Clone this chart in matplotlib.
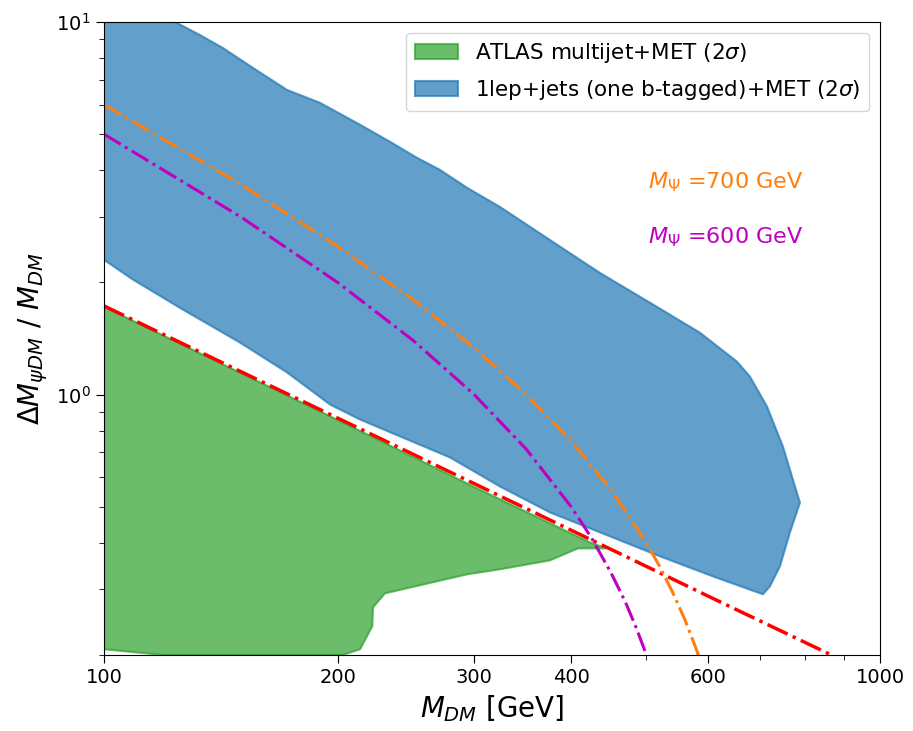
import matplotlib
matplotlib.use("Agg")
import matplotlib.pyplot as plt
from matplotlib.ticker import FixedLocator, NullFormatter

# ---- data (M_DM in GeV, ratio dimensionless) ----
# ATLAS multijet+MET (2 sigma) excluded region, polygon
atlas_x = [100, 200, 300, 423, 443.6, 408.2, 375.6, 323.8, 293.7, 230.2,
           222.2, 221.7, 213.8, 203.2, 119.1, 100]
atlas_y = [1.72, 0.855, 0.565, 0.401, 0.3865, 0.3865, 0.3589, 0.3396, 0.3292,
           0.2927, 0.2685, 0.2388, 0.2072, 0.2, 0.2, 0.2072]

# 1lep+jets (one b-tagged)+MET (2 sigma) region, polygon
lep_x = [100, 123.5, 132.9, 142.3, 155.6, 172.2, 189.8, 213.8, 233.7, 253.2,
         271.0, 293.7, 323.8, 375.6, 435.8, 505.3, 586.1, 654.2, 680.0, 715.2,
         749.9, 784.1, 788.8, 765.6, 743.2, 721.5, 706.6,
         609.3, 520.5, 435.8, 375.6, 323.8, 279.2, 240.7, 213.8, 195.6,
         172.2, 149.7, 126.4, 109.0, 100]
lep_y = [10, 10, 9.23, 8.52, 7.53, 6.57, 6.07, 5.30, 4.77, 4.32,
         4.01, 3.59, 3.19, 2.60, 2.12, 1.765, 1.466, 1.226, 1.117, 0.929,
         0.725, 0.533, 0.513, 0.4266, 0.3458, 0.3056, 0.291,
         0.325, 0.368, 0.4266, 0.4827, 0.5666, 0.678, 0.772, 0.857, 0.940,
         1.146, 1.379, 1.690, 2.034, 2.30]

# kinematic lines
mtop_x = [100, 200, 400, 600, 870]
mtop_y = [1.73, 0.865, 0.4325, 0.288, 0.199]

m700_x = [100, 150, 200, 250, 300, 350, 400, 450, 500, 520, 540, 560, 575, 584]
m700_y = [6.0, 3.67, 2.5, 1.8, 1.333, 1.0, 0.75, 0.556, 0.4, 0.346, 0.296,
          0.25, 0.217, 0.199]

m600_x = [100, 150, 200, 250, 300, 350, 400, 425, 450, 470, 485, 501]
m600_y = [5.0, 3.0, 2.0, 1.4, 1.0, 0.714, 0.5, 0.412, 0.333, 0.277, 0.237,
          0.198]

xtick_vals = [100, 200, 300, 400, 600, 1000]
xtick_labels = ["100", "200", "300", "400", "600", "1000"]
xminor_vals = [500, 700, 800, 900]

fig = plt.figure(figsize=(9.13, 7.31), dpi=100)
ax = fig.add_axes([0.1139, 0.104, 0.8499, 0.8659])

ax.fill(atlas_x, atlas_y, facecolor="tab:green", alpha=0.7,
        edgecolor="tab:green", linewidth=1.5,
        label=r"ATLAS multijet+MET (2$\sigma$)")
ax.fill(lep_x, lep_y, facecolor="tab:blue", alpha=0.7,
        edgecolor="tab:blue", linewidth=1.5,
        label=r"1lep+jets (one b-tagged)+MET (2$\sigma$)")

ax.plot(mtop_x, mtop_y, color="r", linestyle="-.", linewidth=2.5)
ax.plot(m700_x, m700_y, color="tab:orange", linestyle="-.", linewidth=2.2)
ax.plot(m600_x, m600_y, color="m", linestyle="-.", linewidth=2.2)

ax.text(502, 3.72, r"$M_\Psi$ =700 GeV", color="tab:orange", fontsize=16,
        va="center")
ax.text(502, 2.65, r"$M_\Psi$ =600 GeV", color="m", fontsize=16,
        va="center")

ax.set_xscale("log")
ax.set_yscale("log")
ax.set_xlim(100, 1000)
ax.set_ylim(0.2, 10)

ax.xaxis.set_major_locator(FixedLocator(xtick_vals))
ax.set_xticklabels(xtick_labels)
ax.xaxis.set_minor_locator(FixedLocator(xminor_vals))
ax.xaxis.set_minor_formatter(NullFormatter())
ax.tick_params(axis="both", which="major", labelsize=14, length=6)
ax.tick_params(axis="both", which="minor", length=3.5)

ax.set_xlabel(r"$M_{DM}$ [GeV]", fontsize=20)
ax.set_ylabel(r"$\Delta M_{\psi DM}$ / $M_{DM}$", fontsize=20)

ax.legend(loc="upper right", fontsize=15.5, labelspacing=0.6)

fig.savefig("out.png", dpi=100)
